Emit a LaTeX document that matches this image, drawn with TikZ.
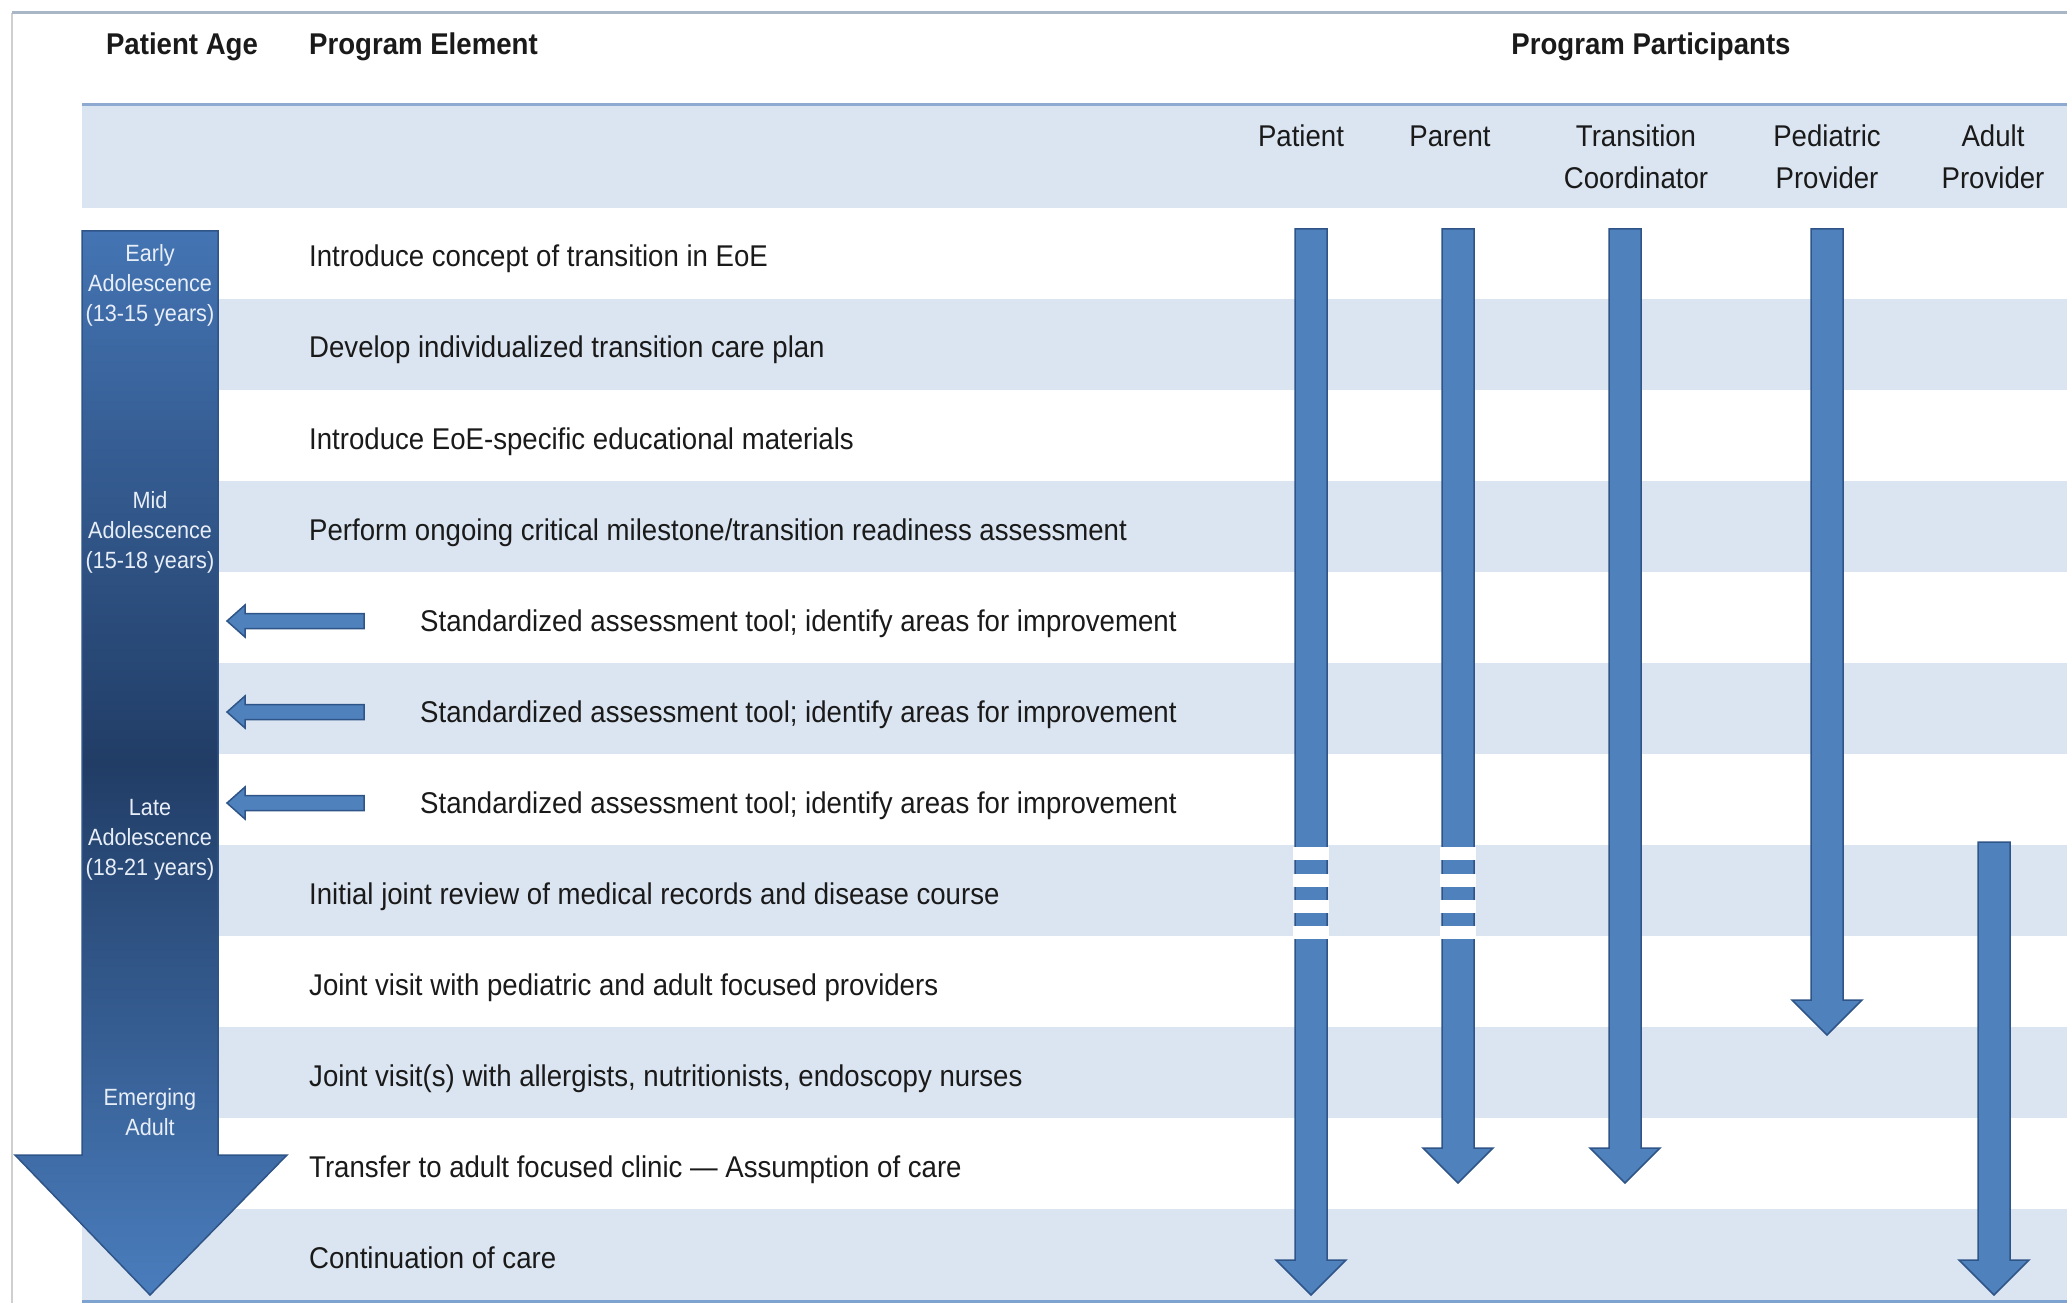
\documentclass[tikz,border=0pt]{standalone}
\usepackage{fontspec}
\setmainfont{Liberation Sans}[FakeStretch=0.92]
\definecolor{band}{HTML}{DBE5F1}
\definecolor{arrowfill}{HTML}{4F81BD}
\definecolor{arrowline}{HTML}{2F5487}
\definecolor{topline}{HTML}{A9B6C6}
\definecolor{headline}{HTML}{8EAAD0}
\definecolor{bottomline}{HTML}{7EA3D0}
\definecolor{frameline}{HTML}{CFCFCF}
\definecolor{txt}{HTML}{1A1A1A}
\definecolor{agetxt}{HTML}{E8EEF7}
\definecolor{bigtop}{HTML}{4474B3}
\definecolor{bigmid}{HTML}{213D66}
\definecolor{bigbot}{HTML}{4A7DBD}
\tikzset{
  rowtext/.style={anchor=base west, text=txt, font=\fontsize{30bp}{36bp}\selectfont, inner sep=0pt},
  headtext/.style={text=txt, font=\bfseries\fontsize{30bp}{36bp}\selectfont, inner sep=0pt},
  coltext/.style={text=txt, font=\fontsize{30bp}{42bp}\selectfont, align=center, inner sep=0pt},
  agetext/.style={text=agetxt, font=\fontsize{23.5bp}{30bp}\selectfont, align=center, inner sep=0pt},
  blockarrow/.style={fill=arrowfill, draw=arrowline, line width=1.5bp, line join=miter},
  bandrow/.style={fill=band, draw=none},
  gap/.style={fill=white, draw=none}
}
% vertical block arrow: #1 x centre, #2 top y, #3 tip y
\newcommand\vblockarrow[3]{%
  \draw[blockarrow] (#1-16,#2) -- (#1+16,#2) -- (#1+16,#3-35) -- (#1+35,#3-35)
    -- (#1,#3) -- (#1-35,#3-35) -- (#1-16,#3-35) -- cycle;}
% small left block arrow: #1 y centre
\newcommand\hblockarrow[1]{%
  \draw[blockarrow] (364,#1-7.5) -- (245,#1-7.5) -- (245,#1-16) -- (227,#1)
    -- (245,#1+16) -- (245,#1+7.5) -- (364,#1+7.5) -- cycle;}
\begin{document}
\begin{tikzpicture}[x=1bp, y=-1bp]
\useasboundingbox (0,0) rectangle (2067,1303);
\fill[white] (0,0) rectangle (2067,1303);
% frame
\draw[frameline, line width=2bp] (12,13) -- (12,1303);
\draw[topline, line width=3bp] (12,13) -- (2067,13);
% header band
\fill[band] (82,105) rectangle (2067,208);
\draw[headline, line width=3bp] (82,105) -- (2067,105);
% row bands
\foreach \k in {2,4,...,12}{
  \fill[bandrow] (82,{208+91*(\k-1)}) rectangle (2067,{208+91*\k});
}
\draw[bottomline, line width=3bp] (82,1301) -- (2067,1301);

% header texts
\node[headtext, anchor=base] (hAge) at (182,55) {Patient Age};
\node[headtext, anchor=base west] (hElem) at (309,55) {Program Element};
\node[headtext, anchor=base] (hPart) at (1651,55) {Program Participants};
\node[coltext, anchor=base] (cPat) at (1301,147) {Patient};
\node[coltext, anchor=base] (cPar) at (1450,147) {Parent};
\node[coltext] (cTC) at (1636,157) {Transition\\Coordinator};
\node[coltext] (cPed) at (1827,157) {Pediatric\\Provider};
\node[coltext] (cAdu) at (1993,157) {Adult\\Provider};

% big age arrow
\shade[top color=bigtop, bottom color=bigbot, middle color=bigmid]
  (82,231) -- (218,231) -- (218,1155) -- (287,1155) -- (150,1295) -- (15,1155) -- (82,1155) -- cycle;
\draw[arrowline, line width=1.5bp, line join=miter]
  (82,231) -- (218,231) -- (218,1155) -- (287,1155) -- (150,1295) -- (15,1155) -- (82,1155) -- cycle;
\node[agetext] (aEarly) at (150,285) {Early\\Adolescence\\(13-15 years)};
\node[agetext] (aMid) at (150,532) {Mid\\Adolescence\\(15-18 years)};
\node[agetext] (aLate) at (150,840) {Late\\Adolescence\\(18-21 years)};
\node[agetext] (aEmer) at (150,1112) {Emerging\\Adult};

% row texts (row k centre = 253.5 + 91(k-1))
\node[rowtext] (r1) at (309,267) {Introduce concept of transition in EoE};
\node[rowtext] (r2) at (309,358) {Develop individualized transition care plan};
\node[rowtext] (r3) at (309,449) {Introduce EoE-specific educational materials};
\node[rowtext] (r4) at (309,540) {Perform ongoing critical milestone/transition readiness assessment};
\node[rowtext] (r5) at (420,631) {Standardized assessment tool; identify areas for improvement};
\node[rowtext] (r6) at (420,722) {Standardized assessment tool; identify areas for improvement};
\node[rowtext] (r7) at (420,813) {Standardized assessment tool; identify areas for improvement};
\node[rowtext] (r8) at (309,904) {Initial joint review of medical records and disease course};
\node[rowtext] (r9) at (309,995) {Joint visit with pediatric and adult focused providers};
\node[rowtext] (r10) at (309,1086) {Joint visit(s) with allergists, nutritionists, endoscopy nurses};
\node[rowtext] (r11) at (309,1177) {Transfer to adult focused clinic — Assumption of care};
\node[rowtext] (r12) at (309,1268) {Continuation of care};

% small left arrows
\hblockarrow{621}
\hblockarrow{712}
\hblockarrow{803}

% participant arrows
\vblockarrow{1311}{229}{1295}
\vblockarrow{1458}{229}{1183}
\vblockarrow{1625}{229}{1183}
\vblockarrow{1827}{229}{1035}
\vblockarrow{1994}{842}{1295}

% broken segments (row 8)
\foreach \xc in {1311,1458}{
  \foreach \ya in {847,874,900,926}{
    \fill[gap] (\xc-18,\ya) rectangle (\xc+18,\ya+13);
  }
}
\end{tikzpicture}
\end{document}
